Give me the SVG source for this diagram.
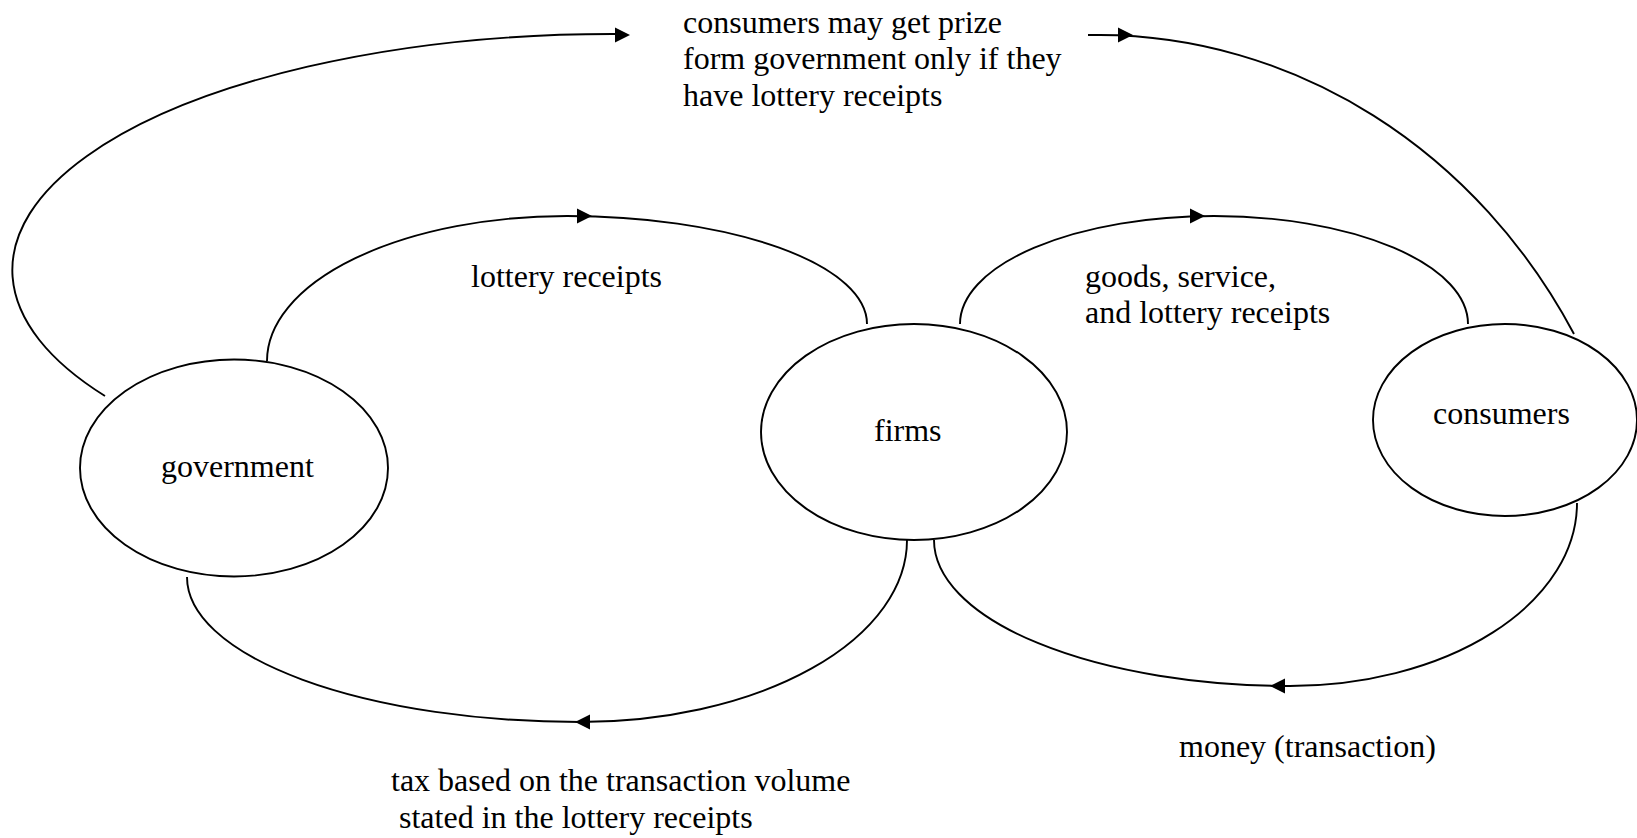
<svg xmlns="http://www.w3.org/2000/svg" xmlns:xlink="http://www.w3.org/1999/xlink" width="1637" height="838" viewBox="0 0 1637 838">
  <style>
    .node { fill: #ffffff; stroke: #000000; stroke-width: 1.9; }
    .flow { fill: none; stroke: #000000; stroke-width: 1.9; }
    .head { fill: #000000; stroke: none; }
    .label { font-family: "Liberation Serif", "Times New Roman", serif; font-size: 32px; fill: #000000; }
  </style>
  <defs>
    <!-- arrowhead pointing right, tip at the origin -->
    <path id="arrow-r" class="head" d="M0,0 L-15,-7.5 L-15,7.5 Z"/>
    <!-- arrowhead pointing left, tip at the origin -->
    <path id="arrow-l" class="head" d="M0,0 L15,-7.5 L15,7.5 Z"/>
  </defs>

  <rect x="0" y="0" width="1637" height="838" fill="#ffffff"/>

  <!-- flows between the three sectors -->
  <g id="connectors">
    <!-- government to consumers: prize (outer loop over the top) -->
    <path class="flow" d="M105,396 A600,236 0 0 1 613,34 L616,34"/>
    <use xlink:href="#arrow-r" x="630" y="35"/>
    <path class="flow" d="M1088,35 L1100,35 A550,600 0 0 1 1574,334"/>
    <use xlink:href="#arrow-r" x="1133" y="35"/>

    <!-- government to firms: lottery receipts -->
    <path class="flow" d="M267,361 A300,145 0 0 1 567,216 A300,108 0 0 1 867,324"/>
    <use xlink:href="#arrow-r" x="592" y="216"/>

    <!-- firms to consumers: goods, service and lottery receipts -->
    <path class="flow" d="M960,324 A254,108 0 0 1 1214,216 A254,108 0 0 1 1468,324"/>
    <use xlink:href="#arrow-r" x="1205" y="216"/>

    <!-- firms to government: tax -->
    <path class="flow" d="M187,577 A393,145 0 0 0 580,722 A327,182 0 0 0 907,540"/>
    <use xlink:href="#arrow-l" x="575" y="722"/>

    <!-- consumers to firms: money -->
    <path class="flow" d="M934,540 A356,146 0 0 0 1290,686 A287,183 0 0 0 1577,503"/>
    <use xlink:href="#arrow-l" x="1270" y="686"/>
  </g>

  <!-- flow labels -->
  <g id="labels">
    <text class="label" x="683" y="32.5">consumers may get prize</text>
    <text class="label" x="683" y="69">form government only if they</text>
    <text class="label" x="683" y="106">have lottery receipts</text>
    <text class="label" x="471" y="286.5">lottery receipts</text>
    <text class="label" x="1085" y="287">goods, service,</text>
    <text class="label" x="1085" y="323">and lottery receipts</text>
    <text class="label" x="1179" y="756.5">money (transaction)</text>
    <text class="label" x="391" y="791">tax based on the transaction volume</text>
    <text class="label" x="391" y="828" xml:space="preserve"> stated in the lottery receipts</text>
  </g>

  <g id="government">
    <ellipse class="node" cx="234" cy="468" rx="154" ry="108.5"/>
    <text class="label" x="161" y="477">government</text>
  </g>

  <g id="firms">
    <ellipse class="node" cx="914" cy="432" rx="153" ry="108"/>
    <text class="label" x="874" y="441">firms</text>
  </g>

  <g id="consumers">
    <ellipse class="node" cx="1505" cy="420" rx="132" ry="96"/>
    <text class="label" x="1433" y="424">consumers</text>
  </g>
</svg>
